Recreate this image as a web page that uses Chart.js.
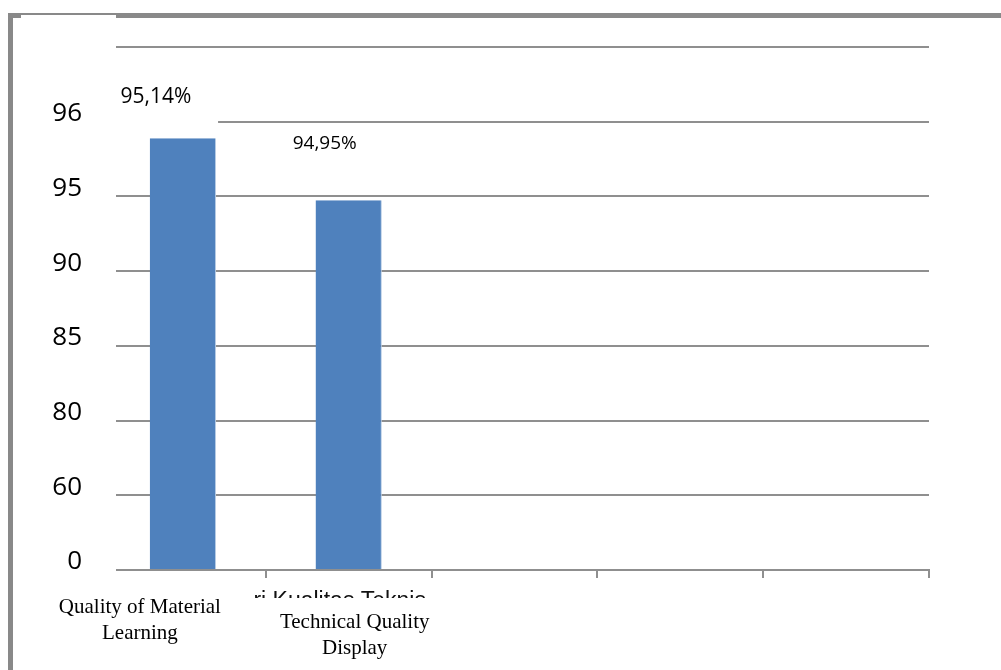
<!DOCTYPE html>
<html><head><meta charset="utf-8">
<script src="https://cdn.jsdelivr.net/npm/chart.js@4.4.1/dist/chart.umd.min.js"></script>
<style>
html,body{margin:0;padding:0;background:#fff;}
#wrap{position:relative;width:1001px;height:670px;overflow:hidden;background:#fff;}
#frame{position:absolute;left:8px;top:13px;width:1100px;height:700px;border-left:5px solid #898989;border-top:5px solid #898989;}
#patch{position:absolute;left:21px;top:15px;width:95px;height:4px;background:#fff;}
canvas{position:absolute;left:0;top:0;}
</style></head><body>
<div id="wrap"><div id="frame"></div><div id="patch"></div><canvas id="c" width="1001" height="670"></canvas></div>
<script>
// ---- data ----
const categories = [["Quality of Material", "Learning"], ["Technical Quality", "Display"], "", "", ""];
const barValues = [5.78, 4.95];           // bar heights on the chart's value axis
const valueLabels = ["95,14%", "94,95%"];
const yTickLabels = ["0", "60", "80", "85", "90", "95", "96", ""];
const overlapText = "ri Kualitas Teknis";

// ---- presentation ----
const GRID = '#8f8f8f';
const labelOffsets = [[-27, -41], [-24, -57]];   // data label placement relative to bar top
const labelSizes = [21, 19];
const catLabelShift = [[-43, 37], [6, 52]];       // category label placement relative to tick / axis

const coverPlugin = {
  id: 'cover',
  beforeDatasetsDraw(chart) {
    const {ctx, chartArea} = chart;
    const y = chart.scales.y;
    const bar0 = chart.getDatasetMeta(0).data[0];
    ctx.save();
    ctx.fillStyle = '#fff';
    ctx.fillRect(chartArea.left - 2, chartArea.top - 3, 18, chartArea.bottom - chartArea.top + 16);
    // gridline under the first data label is hidden in the original
    if (bar0) {
      const gy = y.getPixelForValue(6);
      ctx.fillRect(chartArea.left, gy - 2, bar0.x + bar0.width / 2 + 2 - chartArea.left, 4);
    }
    ctx.restore();
  }
};

const labelPlugin = {
  id: 'labels',
  afterDatasetsDraw(chart) {
    const {ctx} = chart;
    const meta = chart.getDatasetMeta(0);
    ctx.save();
    ctx.fillStyle = '#000';
    ctx.textAlign = 'center';
    ctx.textBaseline = 'middle';
    meta.data.forEach((bar, i) => {
      const o = labelOffsets[i] || [0, -20];
      ctx.font = (labelSizes[i] || 19) + 'px "Open Sans"';
      ctx.fillText(valueLabels[i], bar.x + o[0], bar.y + o[1]);
    });
    ctx.restore();
  },
  afterDraw(chart) {
    const {ctx, chartArea} = chart;
    const x = chart.scales.x;
    ctx.save();
    ctx.fillStyle = '#000';
    ctx.textAlign = 'center';
    ctx.textBaseline = 'middle';
    ctx.font = '21px "Liberation Serif"';
    categories.forEach((lab, i) => {
      if (!lab) return;
      const lines = Array.isArray(lab) ? lab : [lab];
      const cx = x.getPixelForTick(i) + catLabelShift[i][0];
      lines.forEach((t, j) => ctx.fillText(t, cx, chartArea.bottom + catLabelShift[i][1] + j * 26));
    });
    // clipped overlapping text
    ctx.beginPath();
    ctx.rect(0, chartArea.bottom + 20, chart.width, 8);
    ctx.clip();
    ctx.font = '23px "Liberation Sans"';
    ctx.textBaseline = 'alphabetic';
    ctx.fillStyle = '#111';
    ctx.fillText(overlapText, x.getPixelForTick(1) - 9, chartArea.bottom + 38);
    ctx.restore();
  }
};

new Chart(document.getElementById('c'), {
  type: 'bar',
  data: {
    labels: categories,
    datasets: [{
      data: barValues,
      backgroundColor: '#4f81bd',
      borderColor: '#b9cde5',
      borderWidth: {left: 0, right: 1, top: 0, bottom: 0},
      borderSkipped: false,
      barPercentage: 0.8,
      categoryPercentage: 0.5
    }]
  },
  options: {
    responsive: false,
    devicePixelRatio: 1,
    animation: false,
    events: [],
    layout: {padding: {left: 0, right: 72, top: 47, bottom: 0}},
    plugins: {legend: {display: false}, tooltip: {enabled: false}, title: {display: false}},
    scales: {
      x: {
        type: 'category',
        afterFit(s) { s.height = 100; },
        grid: {display: true, drawOnChartArea: false, drawTicks: true, tickLength: 8, color: GRID, lineWidth: 2, offset: true},
        border: {display: true, color: GRID, width: 2},
        ticks: {display: false}
      },
      y: {
        type: 'linear',
        min: 0, max: 7,
        afterFit(s) { s.width = 100; },
        afterBuildTicks(s) { s.ticks = yTickLabels.map((_, i) => ({value: i})); },
        grid: {color: GRID, lineWidth: 2, drawTicks: false},
        border: {display: false},
        ticks: {
          padding: 18,
          labelOffset: -8,
          color: '#000',
          font: {family: '"Open Sans"', size: 26},
          callback: (v) => yTickLabels[v] ?? ''
        }
      }
    }
  },
  plugins: [coverPlugin, labelPlugin]
});
</script>
</body></html>
